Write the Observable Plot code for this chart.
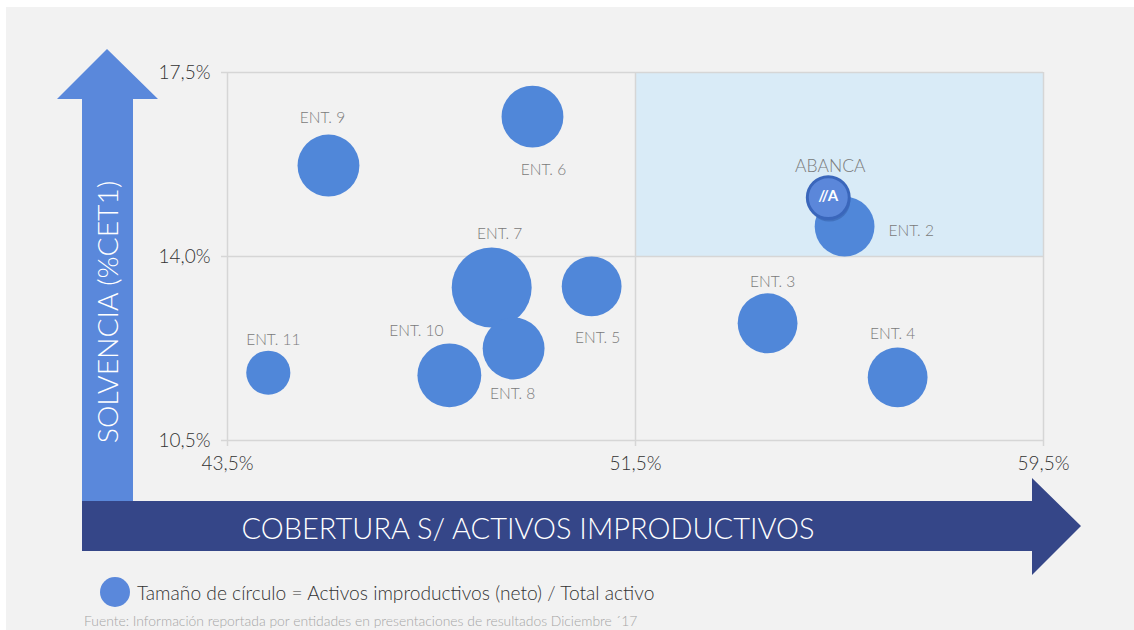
<!DOCTYPE html>
<html><head><meta charset="utf-8">
<script src="https://cdn.jsdelivr.net/npm/d3@7"></script>
<script src="https://cdn.jsdelivr.net/npm/@observablehq/plot@0.6"></script>
<style>
body{margin:0;background:#fff;width:1134px;height:630px;overflow:hidden;position:relative;font-family:Lato,sans-serif}
#panel{position:absolute;left:6px;top:7px;width:1128px;height:623px;background:#f2f2f2}
#arrows{position:absolute;left:0;top:0}
#chart{position:absolute;left:0;top:0}
#legend{position:absolute;left:100px;top:577px;height:30px;display:flex;align-items:center;font-size:19.2px;color:#333;font-weight:300}
#legend .c{width:30px;height:30px;border-radius:50%;background:#5a88db;margin-right:7px}
#caption{position:absolute;left:84px;top:612px;font-size:13.9px;color:#a6a6a6;font-weight:300}
</style></head>
<body>
<div id="panel"></div>
<svg id="arrows" width="1134" height="630">
  <polygon points="107,49 158,99 133,99 133,501 82,501 82,99 57,99" fill="#5a88db"/>
  <polygon points="82,501 1032,501 1032,478 1081,526 1032,575 1032,551 82,551" fill="#354688"/>
  <text x="107" y="312" transform="rotate(-90 107 312)" text-anchor="middle" dominant-baseline="central" fill="#fff" font-size="28.3" font-weight="300" font-family="Lato, sans-serif">SOLVENCIA (%CET1)</text>
  <text x="528" y="527" text-anchor="middle" dominant-baseline="central" fill="#fff" font-size="29" font-weight="300" font-family="Lato, sans-serif">COBERTURA S/ ACTIVOS IMPRODUCTIVOS</text>
</svg>
<div id="chart"></div>
<div id="legend"><div class="c"></div><span>Tamaño de círculo = Activos improductivos (neto) / Total activo</span></div>
<div id="caption">Fuente: Información reportada por entidades en presentaciones de resultados Diciembre ´17</div>
<script>
// Data
const entities = ["ENT. 9","ENT. 6","ENT. 2","ENT. 7","ENT. 5","ENT. 8","ENT. 10","ENT. 11","ENT. 3","ENT. 4","ABANCA"];
const cobertura = [45.48, 49.48, 55.60, 48.68, 50.64, 49.11, 47.85, 44.30, 54.09, 56.64, 55.28];
const solvencia = [15.73, 16.66, 14.57, 13.41, 13.43, 12.25, 11.74, 11.79, 12.73, 11.70, 15.12];
const activosImprod = [6.1, 6.1, 5.7, 10.2, 5.7, 6.1, 6.5, 3.1, 5.7, 5.7, 2.8];
const xTicks = [43.5, 51.5, 59.5];
const yTicks = [10.5, 14.0, 17.5];

const data = entities.map((name, i) => ({name, x: cobertura[i], y: solvencia[i], size: activosImprod[i]}));
const others = data.filter(d => d.name !== "ABANCA");
const abanca = data.filter(d => d.name === "ABANCA");
const quadrant = [{x1: xTicks[1], x2: xTicks[2], y1: yTicks[1], y2: yTicks[2]}];

// label placement (pixel offsets from bubble centre)
const place = {
  "ENT. 9": [-6, -48, "middle"], "ENT. 6": [11, 53, "middle"], "ENT. 2": [44, 4, "start"],
  "ENT. 7": [8, -53, "middle"], "ENT. 5": [6, 52, "middle"], "ENT. 8": [-1, 46, "middle"],
  "ENT. 10": [-33, -44, "middle"], "ENT. 11": [5, -33, "middle"], "ENT. 3": [5, -41, "middle"],
  "ENT. 4": [-5, -43, "middle"], "ABANCA": [2, -31, "middle"]
};
const fmt = d => d.toFixed(1).replace(".", ",") + "%";
const font = "Lato, sans-serif";

const labelMarks = data.map(d => Plot.text([d], {
  x: "x", y: "y", text: "name", dx: place[d.name][0], dy: place[d.name][1],
  textAnchor: place[d.name][2], fill: "#7a7a7a", fontSize: d.name === "ABANCA" ? 17.5 : 15.5, fontWeight: 300
}));

const chart = Plot.plot({
  width: 1134, height: 500,
  marginLeft: 227, marginRight: 91, marginTop: 72, marginBottom: 60,
  style: {background: "transparent", fontFamily: font, overflow: "visible"},
  x: {domain: [xTicks[0], xTicks[2]]},
  y: {domain: [yTicks[0], yTicks[2]]},
  r: {type: "sqrt", domain: [0, 10.2], range: [0, 40]},
  marks: [
    Plot.rect(quadrant, {x1: "x1", x2: "x2", y1: "y1", y2: "y2", fill: "#d9ebf7"}),
    Plot.ruleY(yTicks, {x1: xTicks[0], x2: xTicks[2], stroke: "#d6d6d6", strokeWidth: 1.5}),
    Plot.ruleX(xTicks, {y1: yTicks[0], y2: yTicks[2], stroke: "#d6d6d6", strokeWidth: 1.5}),
    Plot.axisY(yTicks, {tickSize: 6, tickPadding: 11, tickFormat: fmt, stroke: "#d6d6d6", strokeWidth: 1.5, fill: "#333", fontSize: 19, fontWeight: 300, label: null}),
    Plot.axisX(xTicks, {tickSize: 6, tickPadding: 10, tickFormat: fmt, stroke: "#d6d6d6", strokeWidth: 1.5, fill: "#333", fontSize: 19, fontWeight: 300, label: null}),
    Plot.dot(others, {x: "x", y: "y", r: "size", fill: "#5087d9"}),
    Plot.dot(abanca, {x: "x", y: "y", r: "size", fill: "#2a4f95", fillOpacity: 0.4, dx: 1, dy: 3}),
    Plot.dot(abanca, {x: "x", y: "y", r: "size", fill: "#5b87da", stroke: "#3a66bb", strokeWidth: 3}),
    Plot.text(abanca, {x: "x", y: "y", text: () => "//A", fill: "#fff", fontSize: 15, fontWeight: 700, dy: -1}),
    ...labelMarks
  ]
});
document.getElementById("chart").appendChild(chart);
</script>
</body></html>
